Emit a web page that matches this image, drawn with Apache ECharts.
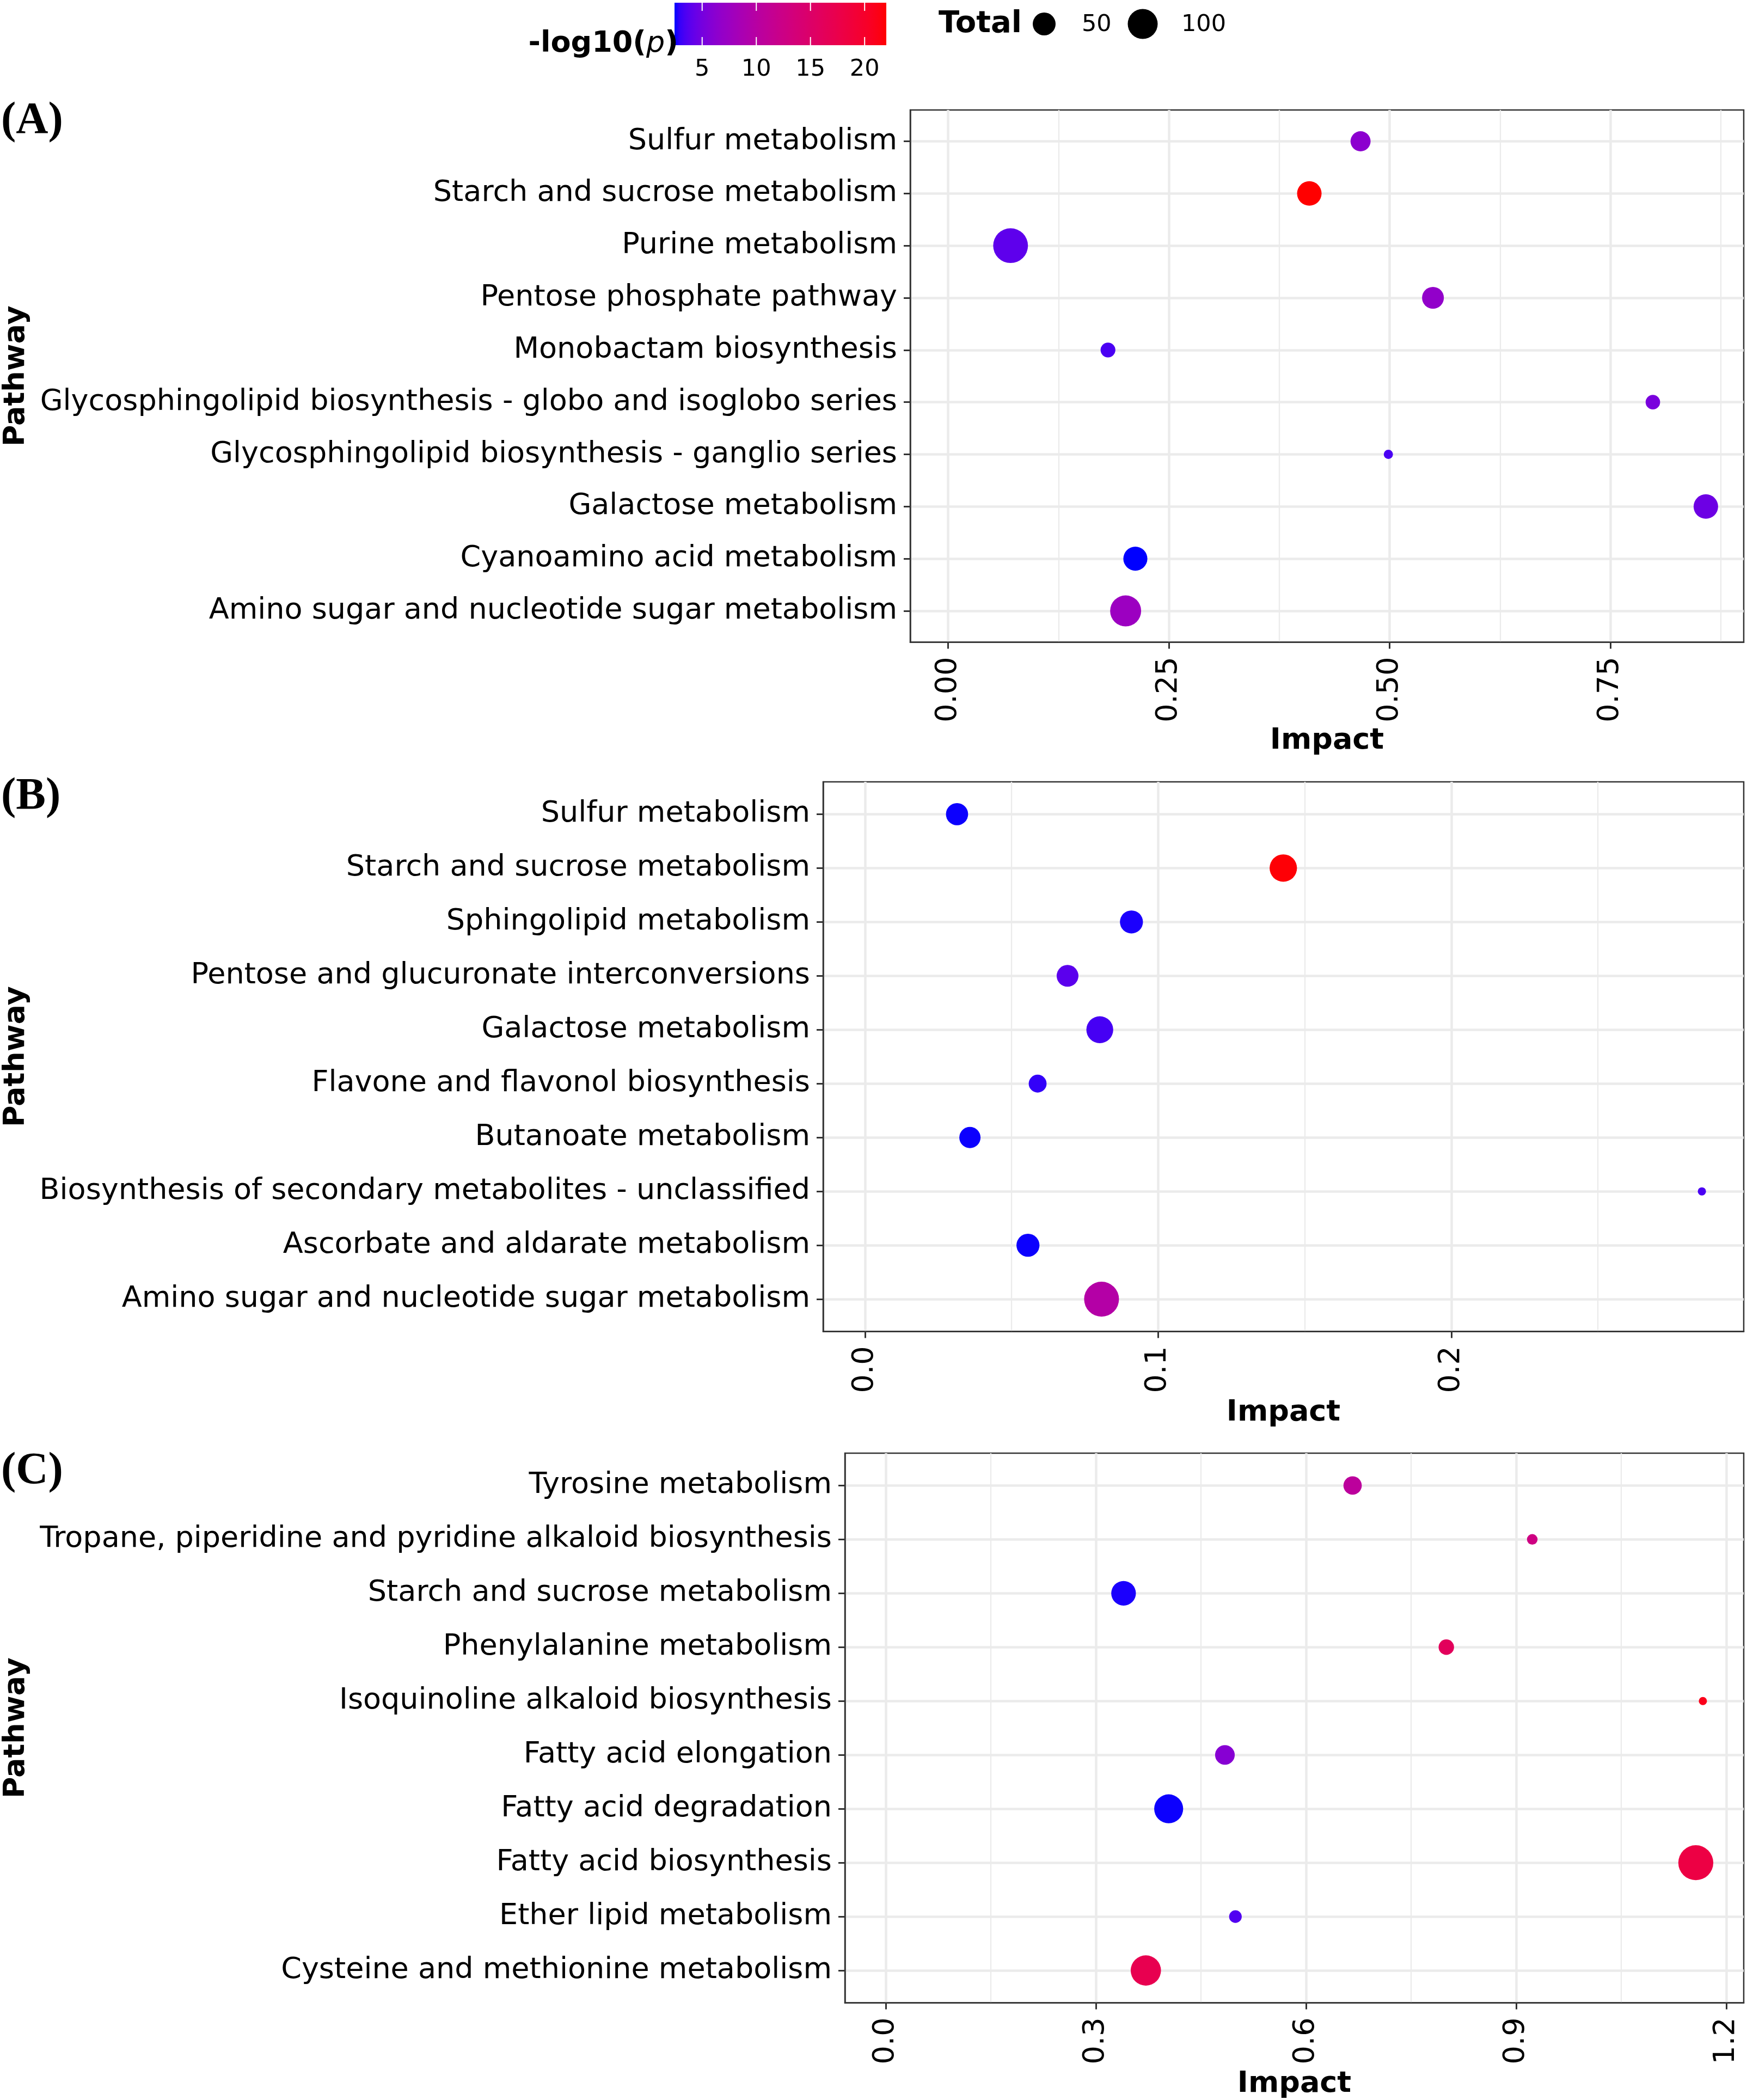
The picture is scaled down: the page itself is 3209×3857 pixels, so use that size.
<!DOCTYPE html>
<html>
<head>
<meta charset="utf-8">
<script src="https://cdn.jsdelivr.net/npm/echarts@6/dist/echarts.min.js"></script>
<style>html,body{margin:0;padding:0;background:#fff}#c{width:3209px;height:3857px}</style>
</head>
<body>
<div id="c"></div>
<script>
// ---------------- DATA (pathways listed bottom-to-top, as ggplot orders factor levels) ----------------
const pathwaysA = ["Amino sugar and nucleotide sugar metabolism","Cyanoamino acid metabolism","Galactose metabolism","Glycosphingolipid biosynthesis - ganglio series","Glycosphingolipid biosynthesis - globo and isoglobo series","Monobactam biosynthesis","Pentose phosphate pathway","Purine metabolism","Starch and sucrose metabolism","Sulfur metabolism"];
const impactA = [0.201, 0.212, 0.858, 0.4985, 0.798, 0.181, 0.549, 0.0707, 0.409, 0.467];
const totalA  = [109, 57, 60, 2, 13, 14, 44, 144, 60, 35];
const logpA   = [7.5, 2.45, 4.6, 3.4, 5.2, 3.4, 6.7, 4.0, 22.0, 6.3];

const pathwaysB = ["Amino sugar and nucleotide sugar metabolism","Ascorbate and aldarate metabolism","Biosynthesis of secondary metabolites - unclassified","Butanoate metabolism","Flavone and flavonol biosynthesis","Galactose metabolism","Pentose and glucuronate interconversions","Sphingolipid metabolism","Starch and sucrose metabolism","Sulfur metabolism"];
const impactB = [0.0807, 0.0556, 0.2855, 0.0358, 0.0589, 0.0801, 0.0691, 0.0909, 0.1427, 0.0314];
const totalB  = [145, 51, 1, 41, 25, 76, 44, 51, 80, 46];
const logpB   = [9.7, 2.5, 3.4, 2.5, 2.9, 3.3, 3.9, 2.6, 21.8, 2.5];

const pathwaysC = ["Cysteine and methionine metabolism","Ether lipid metabolism","Fatty acid biosynthesis","Fatty acid degradation","Fatty acid elongation","Isoquinoline alkaloid biosynthesis","Phenylalanine metabolism","Starch and sucrose metabolism","Tropane, piperidine and pyridine alkaloid biosynthesis","Tyrosine metabolism"];
const impactC = [0.3713, 0.4992, 1.1565, 0.4039, 0.4842, 1.1666, 0.8003, 0.3395, 0.923, 0.6665];
const totalC  = [103, 8, 146, 92, 33, 1, 16, 61, 4, 27];
const logpC   = [17.1, 3.6, 18.1, 2.5, 6.0, 21.0, 16.1, 2.6, 12.8, 10.6];

const ticksA = [0, 0.25, 0.5, 0.75];
const minorA = [0.125, 0.375, 0.625, 0.875];
const ticksB = [0, 0.1, 0.2];
const minorB = [0.05, 0.15, 0.25];
const ticksC = [0, 0.3, 0.6, 0.9, 1.2];
const minorC = [0.15, 0.45, 0.75, 1.05];

const colorTicks = [5, 10, 15, 20];
const sizeBreaks = [50, 100];

// ---------------- SCALES ----------------
const allLogp = logpA.concat(logpB, logpC);
const CMIN = Math.min.apply(null, allLogp), CMAX = Math.max.apply(null, allLogp);

function toLab(rgb){
  const lin = rgb.map(c => { c /= 255; return c <= 0.04045 ? c/12.92 : Math.pow((c+0.055)/1.055, 2.4); });
  const X = (0.4124564*lin[0]+0.3575761*lin[1]+0.1804375*lin[2])/0.95047;
  const Y = (0.2126729*lin[0]+0.7151522*lin[1]+0.0721750*lin[2]);
  const Z = (0.0193339*lin[0]+0.1191920*lin[1]+0.9503041*lin[2])/1.08883;
  const f = t => t > 216/24389 ? Math.cbrt(t) : (24389/27*t+16)/116;
  const fx=f(X), fy=f(Y), fz=f(Z);
  return [116*fy-16, 500*(fx-fy), 200*(fy-fz)];
}
function fromLab(lab){
  const fy=(lab[0]+16)/116, fx=fy+lab[1]/500, fz=fy-lab[2]/200;
  const inv = t => (t*t*t > 216/24389) ? t*t*t : (116*t-16)/(24389/27);
  const X=inv(fx)*0.95047, Y=inv(fy), Z=inv(fz)*1.08883;
  const r = 3.2404542*X-1.5371385*Y-0.4985314*Z;
  const g =-0.9692660*X+1.8760108*Y+0.0415560*Z;
  const b = 0.0556434*X-0.2040259*Y+1.0572252*Z;
  const enc = c => { c=Math.min(1,Math.max(0,c)); c = c<=0.0031308 ? 12.92*c : 1.055*Math.pow(c,1/2.4)-0.055; return Math.round(c*255); };
  return 'rgb(' + enc(r) + ',' + enc(g) + ',' + enc(b) + ')';
}
const LAB_LOW = toLab([0,0,255]), LAB_HIGH = toLab([255,0,0]);
function colorAtT(t){
  t = Math.max(0, Math.min(1, t));
  return fromLab([0,1,2].map(k => LAB_LOW[k] + (LAB_HIGH[k]-LAB_LOW[k])*t));
}
function labColor(v){ return colorAtT((v - CMIN)/(CMAX - CMIN)); }
function sizeFn(total){ return 10.6 + 4.44*Math.sqrt(total); }

// ---------------- LAYOUT ----------------
const FONT = 'DejaVu Sans';
const FS = 54;
const panels = [
  {names:pathwaysA, impact:impactA, total:totalA, logp:logpA, ticks:ticksA, minor:minorA, dec:2,
   layout:{left:1672, top:202, height:977.5, nameGap:154, labelY:223}, tag:'(A)'},
  {names:pathwaysB, impact:impactB, total:totalB, logp:logpB, ticks:ticksB, minor:minorB, dec:1,
   layout:{left:1512, top:1436, height:1009.5, nameGap:122, labelY:1464}, tag:'(B)'},
  {names:pathwaysC, impact:impactC, total:totalC, logp:logpC, ticks:ticksC, minor:minorC, dec:1,
   layout:{left:1552, top:2669, height:1009.5, nameGap:122, labelY:2703}, tag:'(C)'}
];

const grids = [], xAxes = [], yAxes = [], series = [], graphics = [];
panels.forEach((p, i) => {
  const maxImp = Math.max.apply(null, p.impact);
  const xmin = -0.05*maxImp, xmax = maxImp*1.05;
  const n = p.names.length;
  const idx = p.names.map((_, j) => j);
  grids.push({left:p.layout.left, right:6, top:p.layout.top, height:p.layout.height,
    show:true, borderColor:'#333', borderWidth:2.5, backgroundColor:'#fff'});
  xAxes.push({type:'value', gridIndex:i, min:xmin, max:xmax, position:'bottom',
    axisLine:{show:true, onZero:false, lineStyle:{color:'#333', width:2.5}},
    axisTick:{show:true, length:12, customValues:p.ticks, lineStyle:{color:'#333', width:3}},
    axisLabel:{customValues:p.ticks, rotate:90, margin:27, fontSize:FS, fontFamily:FONT, color:'#000',
      formatter:(v) => Number(v).toFixed(p.dec)},
    splitLine:{show:true, lineStyle:{color:'#EBEBEB', width:4.5}},
    name:'Impact', nameLocation:'middle', nameGap:p.layout.nameGap,
    nameTextStyle:{fontSize:FS, fontWeight:'bold', fontFamily:FONT, color:'#000'}});
  xAxes.push({type:'value', gridIndex:i, min:xmin, max:xmax, position:'top',
    axisLine:{show:false}, axisTick:{show:false, customValues:p.minor}, axisLabel:{show:false},
    splitLine:{show:true, lineStyle:{color:'#EBEBEB', width:2.3}}});
  yAxes.push({type:'value', gridIndex:i, min:-0.6, max:n-1+0.6,
    axisLine:{show:true, onZero:false, lineStyle:{color:'#333', width:2.5}},
    axisTick:{show:true, length:12, customValues:idx, lineStyle:{color:'#333', width:3}},
    axisLabel:{customValues:idx, margin:24, fontSize:FS, fontFamily:FONT, color:'#000',
      padding:[8,0,0,0],
      formatter:(v) => p.names[Math.round(v)]},
    splitLine:{show:true, lineStyle:{color:'#EBEBEB', width:4.5}}});
  series.push({type:'scatter', xAxisIndex:2*i, yAxisIndex:i, z:5,
    data:p.impact.map((x, j) => [x, j, p.total[j], p.logp[j]]),
    symbol:'circle', symbolSize:(d) => sizeFn(d[2]),
    itemStyle:{color:(prm) => labColor(prm.data[3]), opacity:1},
    emphasis:{disabled:true}});
  const cy = p.layout.top + p.layout.height/2;
  graphics.push({type:'text', x:30, y:cy, rotation:Math.PI/2,
    style:{text:'Pathway', font:'bold ' + FS + 'px "' + FONT + '"', fill:'#000', textAlign:'center', textVerticalAlign:'middle'}});
  graphics.push({type:'text', x:2, y:p.layout.labelY,
    style:{text:p.tag, font:'bold 82px "Liberation Serif"', fill:'#000', textAlign:'left', textVerticalAlign:'middle'}});
});

// ---- legend: colour bar ----
const bar = {x:1239, y:5, w:389, h:78};
const stops = [];
for (let k = 0; k <= 40; k++) stops.push({offset:k/40, color:colorAtT(k/40)});
graphics.push({type:'rect', shape:{x:bar.x, y:bar.y, width:bar.w, height:bar.h},
  style:{fill:new echarts.graphic.LinearGradient(0,0,1,0,stops)}});
colorTicks.forEach(v => {
  const x = bar.x + (v - CMIN)/(CMAX - CMIN)*bar.w;
  graphics.push({type:'line', shape:{x1:x, y1:bar.y, x2:x, y2:bar.y+15}, style:{stroke:'#fff', lineWidth:2}});
  graphics.push({type:'line', shape:{x1:x, y1:bar.y+bar.h-15, x2:x, y2:bar.y+bar.h}, style:{stroke:'#fff', lineWidth:2}});
  graphics.push({type:'text', x:x, y:128, style:{text:String(v), font:'43px "' + FONT + '"', fill:'#000', textAlign:'center', textVerticalAlign:'middle'}});
});
graphics.push({type:'text', x:1246, y:81, z:10,
  style:{text:'{b|-log10(}{i|p}{b|)}', textAlign:'right', textVerticalAlign:'middle',
    rich:{b:{fontFamily:FONT, fontWeight:'bold', fontSize:FS, fill:'#000', color:'#000'},
          i:{fontFamily:FONT, fontStyle:'italic', fontWeight:'normal', fontSize:FS, fill:'#000', color:'#000'}}}});
// ---- legend: size ----
graphics.push({type:'text', x:1724, y:44, style:{text:'Total', font:'bold 56px "' + FONT + '"', fill:'#000', textAlign:'left', textVerticalAlign:'middle'}});
const sizeKeyX = [1918, 2099], sizeLabelX = [1987, 2170];
sizeBreaks.forEach((v, k) => {
  graphics.push({type:'circle', shape:{cx:sizeKeyX[k], cy:44, r:sizeFn(v)/2}, style:{fill:'#000'}});
  graphics.push({type:'text', x:sizeLabelX[k], y:46, style:{text:String(v), font:'43px "' + FONT + '"', fill:'#000', textAlign:'left', textVerticalAlign:'middle'}});
});

const chart = echarts.init(document.getElementById('c'), null, {renderer:'canvas', width:3209, height:3857});
chart.setOption({
  backgroundColor:'#fff',
  animation:false,
  grid:grids, xAxis:xAxes, yAxis:yAxes, series:series,
  graphic:{elements:graphics}
});
</script>
</body>
</html>
